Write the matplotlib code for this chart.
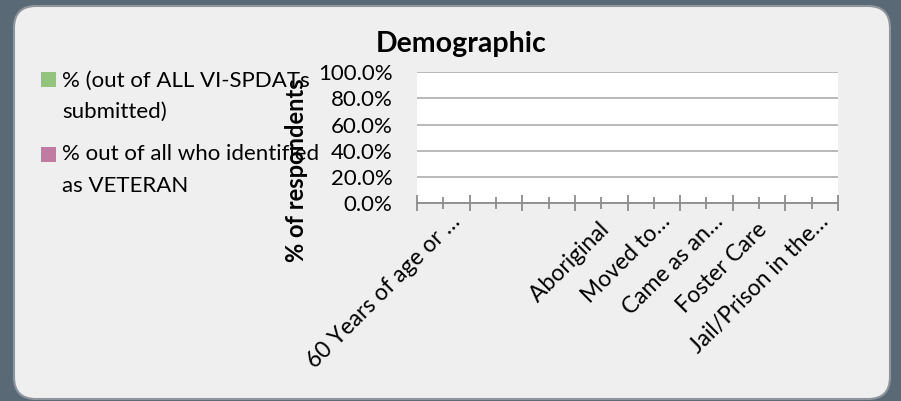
import matplotlib
matplotlib.use("Agg")
import matplotlib.pyplot as plt
from matplotlib.patches import FancyBboxPatch, Rectangle
from matplotlib.transforms import IdentityTransform
from matplotlib.ticker import FuncFormatter

plt.rcParams['font.family'] = ['Lato', 'DejaVu Sans']

# ---- data ----
categories = ["", "60 Years of age or …", "", "", "", "", "", "Aboriginal  ",
              "", "Moved to…", "", "Came as an…", "", "Foster Care  ", "",
              "Jail/Prison in the…"]
series_names = ["% (out of ALL VI-SPDATs\nsubmitted)",
                "% out of all who identified\nas VETERAN"]
series_all = [0.0] * 16
series_veteran = [0.0] * 16
series_colors = ["#93c47d", "#c27ba0"]
y_ticks = [0.0, 0.2, 0.4, 0.6, 0.8, 1.0]
title = "Demographic"
y_label = "% of respondents"

W, H = 901, 401
fig = plt.figure(figsize=(W / 100, H / 100), dpi=100)
fig.set_facecolor("#5a6976")

# rounded panel (display pixels, origin bottom-left)
panel = FancyBboxPatch((14, 2), 876, 393,
                       boxstyle="round,pad=0,rounding_size=22",
                       transform=IdentityTransform(),
                       facecolor="#efefef", edgecolor="#8e959c", lw=1.5,
                       zorder=-10)
fig.add_artist(panel)

def fx(px):
    return px / W

def fy(py_top):
    return (H - py_top) / H

ax = fig.add_axes([fx(417), fy(203.3), (838 - 417) / W, (203.3 - 72) / H])
ax.set_facecolor("white")
ax.set_zorder(1)

n = len(categories)
centers = [i + 0.5 for i in range(n)]
bw = 0.35
ax.bar([c - bw / 2 for c in centers], series_all, width=bw, color=series_colors[0])
ax.bar([c + bw / 2 for c in centers], series_veteran, width=bw, color=series_colors[1])

ax.set_xlim(0, n)
ax.set_ylim(0, 1)
ax.set_yticks(y_ticks)
ax.yaxis.set_major_formatter(FuncFormatter(lambda v, p: f"{v * 100:.1f}%"))
ax.tick_params(axis='y', length=0, pad=17.5, labelsize=16, labelcolor="black")
ax.yaxis.grid(True, color="#b3b3b3", lw=1.3)
ax.set_axisbelow(True)
for s in ("left", "right", "top"):
    ax.spines[s].set_visible(False)
ax.spines["bottom"].set_color("#8c8c8c")
ax.spines["bottom"].set_linewidth(1.3)

# category labels
ax.set_xticks(centers)
ax.set_xticklabels(categories, rotation=45, ha="right", va="center",
                   rotation_mode="anchor", fontsize=16.5)
ax.tick_params(axis='x', which='major', length=0, pad=10.5)
# boundary ticks: long ones at even boundaries, short at odd
ax.set_xticks(list(range(0, n + 1, 2)), minor=True)
ax.tick_params(axis='x', which='minor', direction='inout', length=11,
               width=1.3, color="#8c8c8c")
sec = ax.secondary_xaxis('bottom')
sec.set_xticks(list(range(1, n, 2)))
sec.set_xticklabels([])
sec.tick_params(direction='inout', length=8, width=1.3, color="#8c8c8c")
sec.spines["bottom"].set_visible(False)

# title and axis label
fig.text(fx(461), fy(52), title, ha="center", va="baseline",
         fontsize=20.5, fontweight="bold", color="black")
fig.text(fx(297), fy(170), y_label, rotation=90, ha="center", va="center",
         fontsize=17, fontweight="bold", color="black", zorder=5)

# legend
legend_rows = [(72, 87, 118), (147, 160, 192.3)]
for (sq_top, b1, b2), name, col in zip(legend_rows, series_names, series_colors):
    fig.add_artist(Rectangle((fx(41), fy(sq_top + 15)), 15 / W, 15 / H,
                             transform=fig.transFigure, facecolor=col,
                             edgecolor="none"))
    l1, l2 = name.split("\n")
    fig.text(fx(62), fy(b1), l1, ha="left", va="baseline", fontsize=16, color="black")
    fig.text(fx(62), fy(b2), l2, ha="left", va="baseline", fontsize=16, color="black")

fig.savefig("out.png", dpi=100, facecolor=fig.get_facecolor())
